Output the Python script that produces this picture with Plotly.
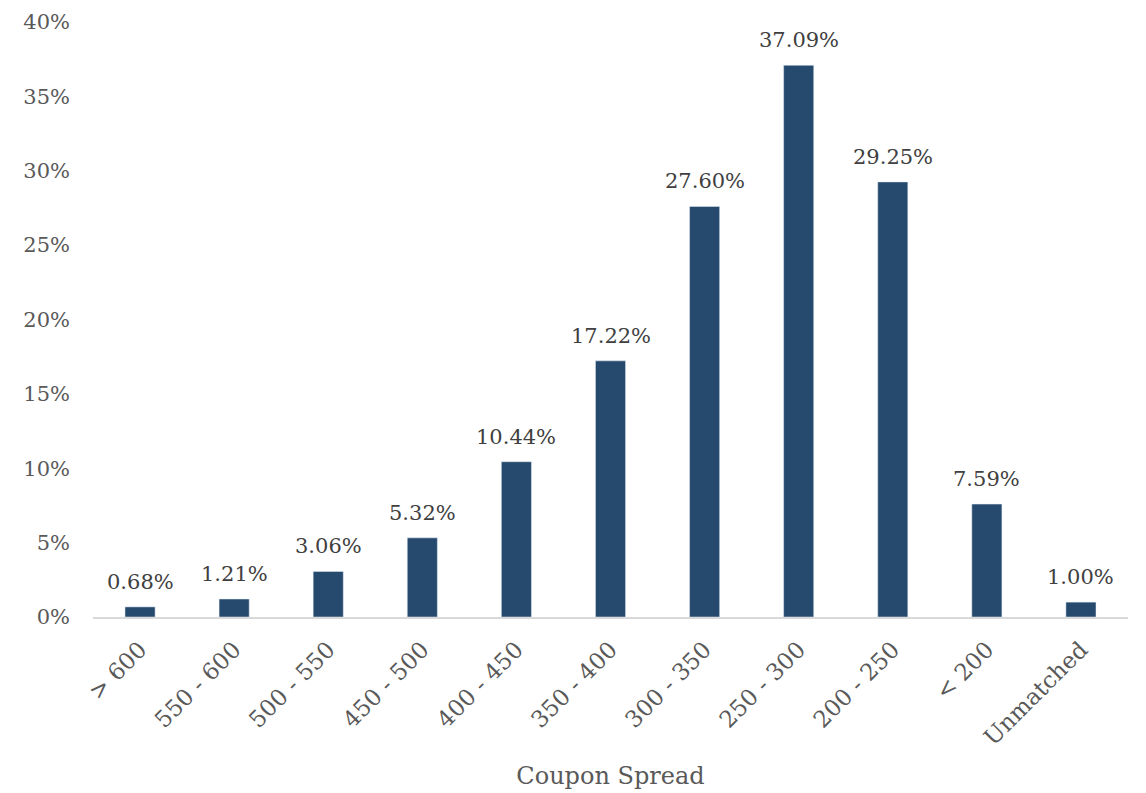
import plotly.graph_objects as go

categories = ["> 600", "550 - 600", "500 - 550", "450 - 500", "400 - 450", "350 - 400",
              "300 - 350", "250 - 300", "200 - 250", "< 200", "Unmatched"]
shares = [0.0068, 0.0121, 0.0306, 0.0532, 0.1044, 0.1722, 0.2760, 0.3709, 0.2925, 0.0759, 0.0100]
y_ticks = [0, 0.05, 0.10, 0.15, 0.20, 0.25, 0.30, 0.35, 0.40]

FONT = "DejaVu Serif"
GREY = "#595959"

fig = go.Figure(
    go.Bar(
        x=categories,
        y=shares,
        width=0.32,
        marker=dict(color="#264a6e"),
        hovertemplate="%{x}: %{y:.2%}<extra></extra>",
    )
)

# value labels above each bar
for cat, val in zip(categories, shares):
    fig.add_annotation(
        x=cat,
        y=val,
        text=f"{val * 100:.2f}%",
        showarrow=False,
        yanchor="bottom",
        yshift=11,
        font=dict(family=FONT, size=21, color="#404040"),
    )

fig.update_layout(
    width=1146,
    height=793,
    margin=dict(l=93, r=18, t=22, b=176),
    plot_bgcolor="white",
    paper_bgcolor="white",
    showlegend=False,
    font=dict(family=FONT, color=GREY),
)

fig.update_xaxes(
    automargin=False,
    tickangle=-45,
    tickfont=dict(family=FONT, size=23, color=GREY),
    showline=True,
    linecolor="#d9d9d9",
    linewidth=2,
    ticks="",
    ticklabelstandoff=8,
    title=dict(text="Coupon Spread", font=dict(family=FONT, size=24, color=GREY), standoff=18),
)

fig.update_yaxes(
    automargin=False,
    range=[0, 0.40],
    tickvals=y_ticks,
    tickformat=".0%",
    tickfont=dict(family=FONT, size=21, color=GREY),
    showgrid=False,
    zeroline=False,
    ticks="",
    ticklabelstandoff=22,
)

fig.write_html("out.html")
